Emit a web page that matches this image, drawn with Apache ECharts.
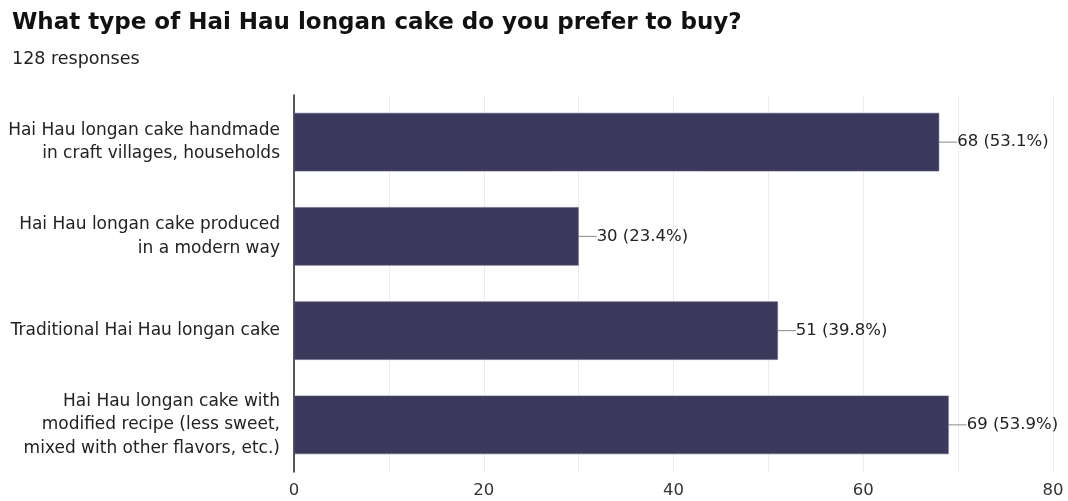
<!DOCTYPE html>
<html>
<head>
<meta charset="utf-8">
<script src="https://cdn.jsdelivr.net/npm/echarts@6/dist/echarts.min.js"></script>
<style>
  html, body { margin: 0; padding: 0; background: #fff; }
  #chart { width: 1068px; height: 501px; }
</style>
</head>
<body>
<div id="chart"></div>
<script>
// Survey answers, top to bottom
const categories = [
  'Hai Hau longan cake handmade\nin craft villages, households',
  'Hai Hau longan cake produced\nin a modern way',
  'Traditional Hai Hau longan cake',
  'Hai Hau longan cake with\nmodified recipe (less sweet,\nmixed with other flavors, etc.)'
];
const counts = [68, 30, 51, 69];
const percents = ['53.1%', '23.4%', '39.8%', '53.9%'];
const totalResponses = 128;

const FONT = '"DejaVu Sans", sans-serif';
const chart = echarts.init(document.getElementById('chart'));

chart.setOption({
  animation: false,
  title: {
    text: 'What type of Hai Hau longan cake do you prefer to buy?',
    subtext: totalResponses + ' responses',
    left: 7,
    top: 7,
    itemGap: 15,
    textStyle: { fontFamily: FONT, fontSize: 23, fontWeight: 'bold', color: '#111' },
    subtextStyle: { fontFamily: FONT, fontSize: 17.5, color: '#222' }
  },
  grid: { left: 294, right: 15, top: 95, bottom: 29, containLabel: false },
  xAxis: {
    type: 'value',
    min: 0,
    max: 80,
    interval: 10,
    axisLine: { show: false },
    axisTick: { show: false },
    splitLine: { show: true, lineStyle: { color: '#ececec', width: 1 } },
    axisLabel: {
      fontFamily: FONT, fontSize: 16.5, color: '#333', margin: 10,
      formatter: v => (v % 20 === 0 ? String(v) : '')
    }
  },
  yAxis: {
    type: 'category',
    inverse: true,
    data: categories,
    axisLine: { show: true, lineStyle: { color: '#222', width: 1.5 } },
    axisTick: { show: false },
    axisLabel: {
      fontFamily: FONT, fontSize: 17, color: '#222', lineHeight: 23.5, margin: 14, align: 'right'
    }
  },
  series: [{
    type: 'bar',
    data: counts,
    barWidth: '62%',
    itemStyle: { color: '#3c3a5c', borderColor: '#57557a', borderWidth: 0.5 },
    label: {
      show: true,
      position: 'right',
      distance: 18,
      fontFamily: FONT, fontSize: 16.5, color: '#222',
      formatter: p => p.value + ' (' + percents[p.dataIndex] + ')'
    },
    labelLine: { show: true, lineStyle: { color: '#888', width: 1 } },
    labelLayout: { moveOverlap: false }
  }]
});
</script>
</body>
</html>
